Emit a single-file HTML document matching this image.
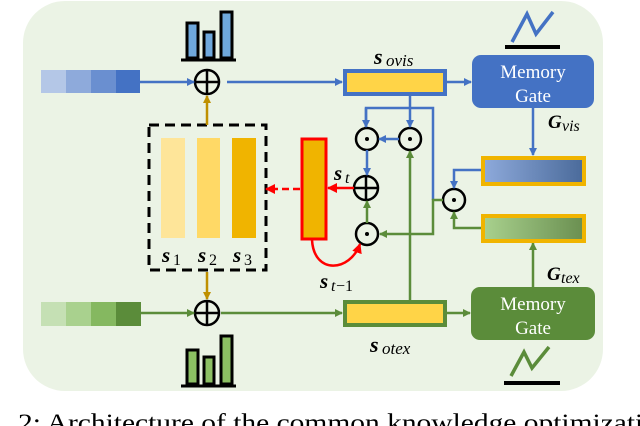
<!DOCTYPE html>
<html><head><meta charset="utf-8"><style>
html,body{margin:0;padding:0;background:#fff;width:640px;height:426px;overflow:hidden}
svg{display:block}
.m{font-family:"Liberation Serif",serif;font-style:italic;font-weight:bold}
.s{font-family:"Liberation Serif",serif;font-style:italic}
</style></head><body>
<svg width="640" height="426" viewBox="0 0 640 426" xmlns="http://www.w3.org/2000/svg">
<defs>
<marker id="ab" markerWidth="8" markerHeight="8" refX="7" refY="4" orient="auto" markerUnits="userSpaceOnUse"><path d="M0,0L8,4L0,8z" fill="#4472c4"/></marker>
<marker id="ag" markerWidth="8" markerHeight="8" refX="7" refY="4" orient="auto" markerUnits="userSpaceOnUse"><path d="M0,0L8,4L0,8z" fill="#5b8c3a"/></marker>
<marker id="ar" markerWidth="10" markerHeight="10" refX="9" refY="5" orient="auto" markerUnits="userSpaceOnUse"><path d="M0,0L10,5L0,10z" fill="#f00"/></marker>
<marker id="ao" markerWidth="8" markerHeight="8" refX="7" refY="4" orient="auto" markerUnits="userSpaceOnUse"><path d="M0,0L8,4L0,8z" fill="#bf9000"/></marker>
<linearGradient id="gv" x1="0" x2="1"><stop offset="0" stop-color="#8eaadb"/><stop offset="1" stop-color="#4a6a9a"/></linearGradient>
<linearGradient id="gt" x1="0" x2="1"><stop offset="0" stop-color="#a9d18e"/><stop offset="1" stop-color="#6a8f50"/></linearGradient>
</defs>
<rect x="23" y="1" width="580" height="390" rx="42" fill="#ebf3e5"/>
<rect x="41" y="70" width="25" height="23" fill="#b4c7e7"/><rect x="66" y="70" width="25" height="23" fill="#8eaadb"/><rect x="91" y="70" width="25" height="23" fill="#6a8fd0"/><rect x="116" y="70" width="24" height="23" fill="#4472c4"/>
<rect x="41" y="302" width="25" height="24" fill="#c5e0b4"/><rect x="66" y="302" width="25" height="24" fill="#a9d18e"/><rect x="91" y="302" width="25" height="24" fill="#85b860"/><rect x="116" y="302" width="25" height="24" fill="#5b8c3a"/>
<g stroke="#000" stroke-width="3"><rect x="187" y="23" width="11" height="35" fill="#6fa8dc"/><rect x="204" y="32" width="10" height="26" fill="#6fa8dc"/><rect x="221" y="12" width="11" height="46" fill="#6fa8dc"/><line x1="181" y1="60" x2="236" y2="60"/></g>
<g stroke="#000" stroke-width="3"><rect x="187" y="350" width="11" height="34" fill="#8cc063"/><rect x="204" y="357" width="10" height="27" fill="#8cc063"/><rect x="221" y="336" width="11" height="48" fill="#8cc063"/><line x1="181" y1="386" x2="236" y2="386"/></g>
<g fill="none" stroke="#000" stroke-width="2.5">
<circle cx="207" cy="82" r="12"/><line x1="195" y1="82" x2="219" y2="82"/><line x1="207" y1="70" x2="207" y2="94"/>
<circle cx="207" cy="313" r="12"/><line x1="195" y1="313" x2="219" y2="313"/><line x1="207" y1="301" x2="207" y2="325"/>
<circle cx="366" cy="188" r="12"/><line x1="354" y1="188" x2="378" y2="188"/><line x1="366" y1="176" x2="366" y2="200"/>
<circle cx="367" cy="139" r="11"/><circle cx="410" cy="139" r="11"/><circle cx="367" cy="234" r="11"/><circle cx="454" cy="200" r="11"/>
</g>
<g fill="#000"><circle cx="367" cy="139" r="2"/><circle cx="410" cy="139" r="2"/><circle cx="367" cy="234" r="2"/><circle cx="454" cy="200" r="2"/></g>
<rect x="149" y="125" width="117" height="145" fill="none" stroke="#000" stroke-width="3" stroke-dasharray="10,6"/>
<rect x="161" y="138" width="24" height="100" fill="#fee599"/><rect x="197" y="138" width="23" height="100" fill="#ffd966"/><rect x="232" y="138" width="24" height="100" fill="#f0b400"/>
<text class="m" x="162" y="262" font-size="21">s</text><text x="173" y="265" font-size="16" font-family="Liberation Serif,serif">1</text>
<text class="m" x="198" y="262" font-size="21">s</text><text x="209" y="265" font-size="16" font-family="Liberation Serif,serif">2</text>
<text class="m" x="233" y="262" font-size="21">s</text><text x="244" y="265" font-size="16" font-family="Liberation Serif,serif">3</text>
<line x1="207" y1="125" x2="207" y2="96" stroke="#bf9000" stroke-width="2.5" marker-end="url(#ao)"/>
<line x1="207" y1="272" x2="207" y2="299" stroke="#bf9000" stroke-width="2.5" marker-end="url(#ao)"/>
<rect x="302" y="139" width="24" height="100" fill="#f0b400" stroke="#f00" stroke-width="3"/>
<line x1="300" y1="189" x2="266" y2="189" stroke="#f00" stroke-width="2.5" stroke-dasharray="7,4" marker-end="url(#ar)"/>
<line x1="354" y1="188" x2="328" y2="188" stroke="#f00" stroke-width="2.5" marker-end="url(#ar)"/>
<path d="M312,240 C314,275 350,272 360,244" fill="none" stroke="#f00" stroke-width="2.5" marker-end="url(#ar)"/>
<text class="m" x="334" y="180" font-size="21">s</text><text class="s" x="345" y="183" font-size="16">t</text>
<text class="m" x="320" y="288" font-size="21">s</text><text class="s" x="331" y="291" font-size="16">t</text><text x="336" y="291" font-size="16" font-family="Liberation Serif,serif">−1</text>
<g stroke="#4472c4" stroke-width="2.5" fill="none">
<line x1="140" y1="82" x2="194" y2="82" marker-end="url(#ab)"/>
<line x1="227" y1="82" x2="342" y2="82" marker-end="url(#ab)"/>
<line x1="447" y1="82" x2="471" y2="82" marker-end="url(#ab)"/>
<line x1="410" y1="96" x2="410" y2="127" marker-end="url(#ab)"/>
<polyline points="366,127 366,108 433,108 433,200"/>
<line x1="366" y1="108" x2="366" y2="127" marker-end="url(#ab)"/>
<line x1="399" y1="139" x2="379" y2="139" marker-end="url(#ab)"/>
<line x1="367" y1="150" x2="367" y2="175" marker-end="url(#ab)"/>
<line x1="533" y1="108" x2="533" y2="155" marker-end="url(#ab)"/>
<polyline points="481,170 454,170 454,188" marker-end="url(#ab)"/>
</g>
<g stroke="#5b8c3a" stroke-width="2.5" fill="none">
<line x1="140" y1="313" x2="194" y2="313" marker-end="url(#ag)"/>
<line x1="221" y1="313" x2="342" y2="313" marker-end="url(#ag)"/>
<line x1="447" y1="313" x2="470" y2="313" marker-end="url(#ag)"/>
<line x1="410" y1="300" x2="410" y2="151" marker-end="url(#ag)"/>
<polyline points="443,200 433,200 433,234 380,234" marker-end="url(#ag)"/>
<line x1="367" y1="223" x2="367" y2="201" marker-end="url(#ag)"/>
<line x1="533" y1="287" x2="533" y2="243" marker-end="url(#ag)"/>
<polyline points="481,228 454,228 454,212" marker-end="url(#ag)"/>
</g>
<rect x="345" y="71" width="100" height="23" fill="#ffd447" stroke="#4472c4" stroke-width="4"/>
<rect x="345" y="302" width="100" height="23" fill="#ffd447" stroke="#5b8c3a" stroke-width="4"/>
<text class="m" x="374" y="64" font-size="22">s</text><text class="s" x="386" y="66" font-size="17">ovis</text>
<text class="m" x="370" y="352" font-size="22">s</text><text class="s" x="382" y="354" font-size="17">otex</text>
<rect x="483" y="158" width="101" height="26" fill="url(#gv)" stroke="#f0b400" stroke-width="4"/>
<rect x="483" y="216" width="101" height="25" fill="url(#gt)" stroke="#f0b400" stroke-width="4"/>
<rect x="472" y="55" width="122" height="53" rx="9" fill="#4472c4"/>
<text x="533" y="78" fill="#fff" font-size="19" text-anchor="middle" font-family="Liberation Serif,serif">Memory</text>
<text x="533" y="102" fill="#fff" font-size="19" text-anchor="middle" font-family="Liberation Serif,serif">Gate</text>
<rect x="471" y="287" width="124" height="53" rx="9" fill="#5b8c3a"/>
<text x="533" y="310" fill="#fff" font-size="19" text-anchor="middle" font-family="Liberation Serif,serif">Memory</text>
<text x="533" y="334" fill="#fff" font-size="19" text-anchor="middle" font-family="Liberation Serif,serif">Gate</text>
<text class="m" x="548" y="128" font-size="19">G</text><text class="s" x="562" y="131" font-size="16">vis</text>
<text class="m" x="547" y="280" font-size="19">G</text><text class="s" x="561" y="283" font-size="16">tex</text>
<path d="M512,42 L527,14 L536,34 L553,12" fill="none" stroke="#4472c4" stroke-width="3.5"/>
<line x1="505" y1="47" x2="560" y2="47" stroke="#000" stroke-width="4"/>
<path d="M511,376 L524,352 L532,368 L549,347" fill="none" stroke="#5b8c3a" stroke-width="3.5"/>
<line x1="504" y1="383" x2="560" y2="383" stroke="#000" stroke-width="4"/>
<text x="18" y="431" font-size="25" font-family="Liberation Serif,serif" textLength="640" lengthAdjust="spacingAndGlyphs">2: Architecture of the common knowledge optimizatio</text>
</svg>
</body></html>
